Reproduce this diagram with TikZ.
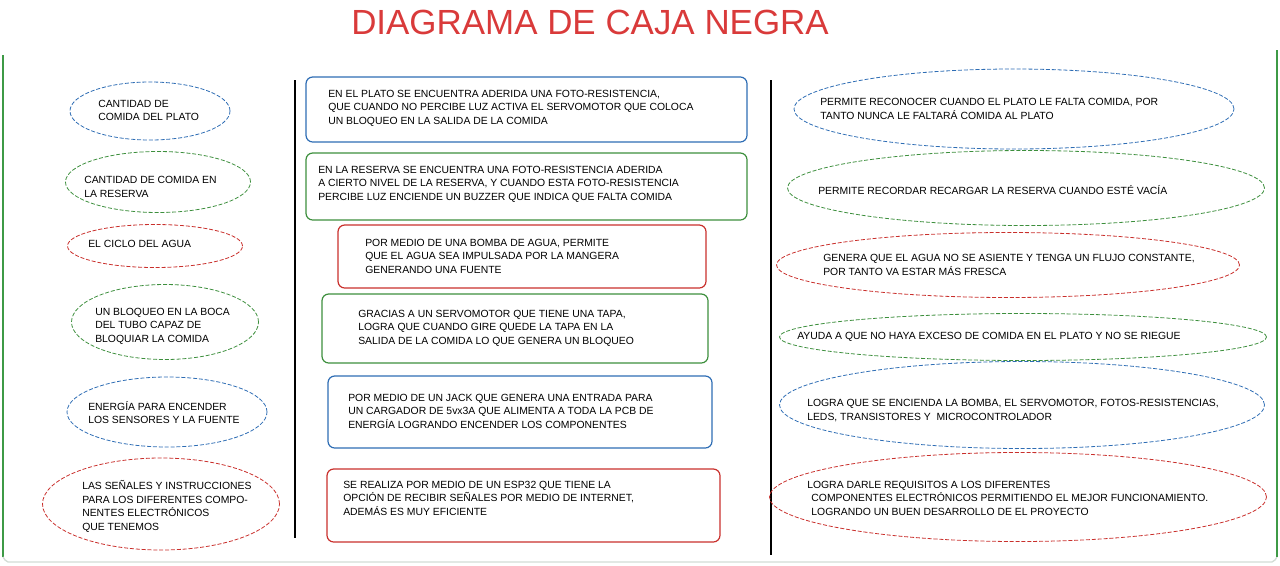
\documentclass[tikz,border=0pt]{standalone}
\usepackage{fontspec}
\setmainfont{Liberation Sans}
\usetikzlibrary{shapes.geometric}
\definecolor{cblue}{HTML}{2E6DB4}
\definecolor{cgreen}{HTML}{3D8F3D}
\definecolor{cred}{HTML}{C9302C}
\definecolor{ctitle}{HTML}{D93A3A}
\definecolor{cframe}{HTML}{3E9A46}
\definecolor{cgray}{HTML}{D3DCD5}
\begin{document}
\begin{tikzpicture}[x=0.75pt,y=-0.75pt,
  ell/.style={ellipse,draw,dash pattern=on 3pt off 1.4pt,line width=0.6pt,inner sep=0pt},
  rbox/.style={rectangle,rounded corners=5pt,draw,line width=0.9pt,inner sep=0pt},
  txt/.style={anchor=west,align=left,inner sep=0pt,font=\fontsize{7.8}{10.1}\selectfont},
  vline/.style={line width=1.1pt,black},
  frame/.style={line width=1pt,cframe}]
\useasboundingbox (0,0) rectangle (1280,565);
% title
\node[font=\fontsize{26.2}{28}\selectfont,text=ctitle,inner sep=0pt] (title) at (590,22) {DIAGRAMA DE CAJA NEGRA};
% frame
\coordinate (fa) at (3,55);
\coordinate (fb) at (3,557);
\coordinate (fc) at (8,562);
\coordinate (fd) at (1272,562);
\coordinate (fe) at (1277,557);
\coordinate (ff) at (1277,50);
\draw[frame] (fa) -- (fb);
\draw[line width=1pt,cgray] (fb) to[bend right=20] (fc) -- (fd) to[bend right=20] (fe);
\draw[frame] (fe) -- (ff);
% separators
\coordinate (s1a) at (295,80);
\coordinate (s1b) at (295,538);
\coordinate (s2a) at (771,80);
\coordinate (s2b) at (771,555);
\draw[vline] (s1a) -- (s1b);
\draw[vline] (s2a) -- (s2b);
% left ellipses
\node[ell,cblue,minimum width=120pt,minimum height=43.5pt] (l1) at (150,111) {};
\node[ell,cgreen,minimum width=138.75pt,minimum height=45.75pt] (l2) at (158,182) {};
\node[ell,cred,minimum width=131.25pt,minimum height=32.25pt] (l3) at (155,246) {};
\node[ell,cgreen,minimum width=140.25pt,minimum height=56.25pt] (l4) at (165,322) {};
\node[ell,cblue,minimum width=150pt,minimum height=52.5pt] (l5) at (167,412) {};
\node[ell,cred,minimum width=177.75pt,minimum height=69pt] (l6) at (161,504) {};
\node[txt] (lt1) at (98,110.5) {CANTIDAD DE\\COMIDA DEL PLATO};
\node[txt] (lt2) at (84,187) {CANTIDAD DE COMIDA EN\\LA RESERVA};
\node[txt] (lt3) at (88,244) {EL CICLO DEL AGUA};
\node[txt] (lt4) at (95,326) {UN BLOQUEO EN LA BOCA\\DEL TUBO CAPAZ DE\\BLOQUIAR LA COMIDA};
\node[txt] (lt5) at (88,412.5) {ENERGÍA PARA ENCENDER\\LOS SENSORES Y LA FUENTE};
\node[txt] (lt6) at (82,506.5) {LAS SEÑALES Y INSTRUCCIONES\\PARA LOS DIFERENTES COMPO-\\NENTES ELECTRÓNICOS\\QUE TENEMOS};
% middle boxes
\node[rbox,cblue,minimum width=330.75pt,minimum height=48.75pt] (m1) at (526.5,109.5) {};
\node[rbox,cgreen,minimum width=330.75pt,minimum height=50.25pt] (m2) at (526.5,186.5) {};
\node[rbox,cred,minimum width=276pt,minimum height=47.25pt] (m3) at (522,256.5) {};
\node[rbox,cgreen,minimum width=289.5pt,minimum height=51.75pt] (m4) at (515,328.5) {};
\node[rbox,cblue,minimum width=288pt,minimum height=54pt] (m5) at (520,412) {};
\node[rbox,cred,minimum width=294.75pt,minimum height=54.75pt] (m6) at (523.5,505.5) {};
\node[txt] (mt1) at (328,108) {EN EL PLATO SE ENCUENTRA ADERIDA UNA FOTO-RESISTENCIA,\\QUE CUANDO NO PERCIBE LUZ ACTIVA EL SERVOMOTOR QUE COLOCA\\UN BLOQUEO EN LA SALIDA DE LA COMIDA};
\node[txt] (mt2) at (318,184) {EN LA RESERVA SE ENCUENTRA UNA FOTO-RESISTENCIA ADERIDA\\A CIERTO NIVEL DE LA RESERVA, Y CUANDO ESTA FOTO-RESISTENCIA\\PERCIBE LUZ ENCIENDE UN BUZZER QUE INDICA QUE FALTA COMIDA};
\node[txt] (mt3) at (365,256) {POR MEDIO DE UNA BOMBA DE AGUA, PERMITE\\QUE EL AGUA SEA IMPULSADA POR LA MANGERA\\GENERANDO UNA FUENTE};
\node[txt] (mt4) at (358,328) {GRACIAS A UN SERVOMOTOR QUE TIENE UNA TAPA,\\LOGRA QUE CUANDO GIRE QUEDE LA TAPA EN LA\\SALIDA DE LA COMIDA LO QUE GENERA UN BLOQUEO};
\node[txt] (mt5) at (348,411) {POR MEDIO DE UN JACK QUE GENERA UNA ENTRADA PARA\\UN CARGADOR DE 5vx3A QUE ALIMENTA A TODA LA PCB DE\\ENERGÍA LOGRANDO ENCENDER LOS COMPONENTES};
\node[txt] (mt6) at (343,498) {SE REALIZA POR MEDIO DE UN ESP32 QUE TIENE LA\\OPCIÓN DE RECIBIR SEÑALES POR MEDIO DE INTERNET,\\ADEMÁS ES MUY EFICIENTE};
% right ellipses
\node[ell,cblue,minimum width=330pt,minimum height=60pt] (r1) at (1014,109) {};
\node[ell,cgreen,minimum width=357.75pt,minimum height=56.25pt] (r2) at (1026,188) {};
\node[ell,cred,minimum width=347.25pt,minimum height=48.75pt] (r3) at (1008,265) {};
\node[ell,cgreen,minimum width=365.25pt,minimum height=35.25pt] (r4) at (1023,337) {};
\node[ell,cblue,minimum width=363.75pt,minimum height=65.25pt] (r5) at (1022,405) {};
\node[ell,cred,minimum width=372.75pt,minimum height=66.75pt] (r6) at (1018,497) {};
\node[txt] (rt1) at (820,109) {PERMITE RECONOCER CUANDO EL PLATO LE FALTA COMIDA, POR\\TANTO NUNCA LE FALTARÁ COMIDA AL PLATO};
\node[txt] (rt2) at (818,190) {PERMITE RECORDAR RECARGAR LA RESERVA CUANDO ESTÉ VACÍA};
\node[txt] (rt3) at (823,265) {GENERA QUE EL AGUA NO SE ASIENTE Y TENGA UN FLUJO CONSTANTE,\\POR TANTO VA ESTAR MÁS FRESCA};
\node[txt] (rt4) at (797,337) {AYUDA A QUE NO HAYA EXCESO DE COMIDA EN EL PLATO Y NO SE RIEGUE};
\node[txt] (rt5) at (807,410.5) {LOGRA QUE SE ENCIENDA LA BOMBA, EL SERVOMOTOR, FOTOS-RESISTENCIAS,\\LEDS, TRANSISTORES Y \ MICROCONTROLADOR};
\node[txt] (rt6) at (807,498) {LOGRA DARLE REQUISITOS A LOS DIFERENTES\\\hspace{0.4em}COMPONENTES ELECTRÓNICOS PERMITIENDO EL MEJOR FUNCIONAMIENTO.\\\hspace{0.4em}LOGRANDO UN BUEN DESARROLLO DE EL PROYECTO};
\end{tikzpicture}
\end{document}
